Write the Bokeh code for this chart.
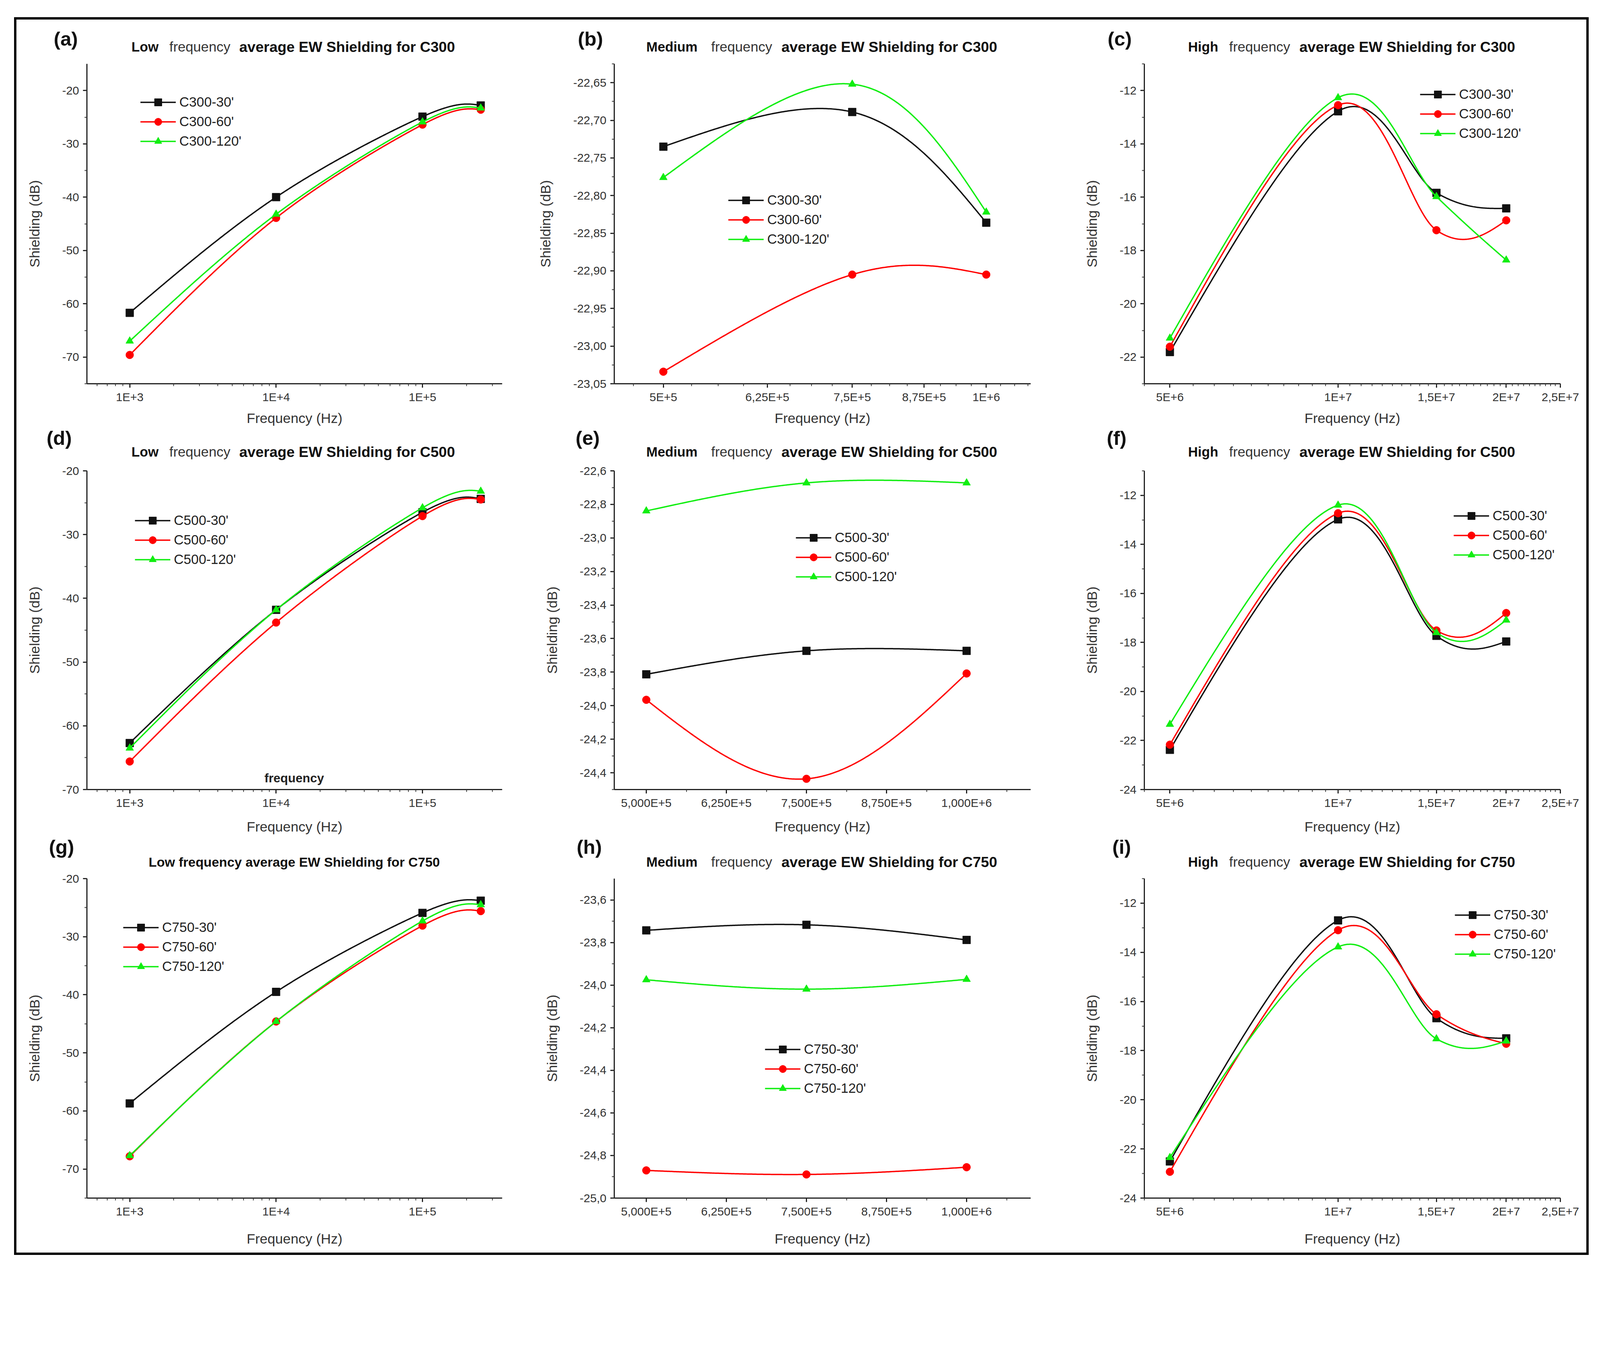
import numpy as np
from bokeh.plotting import figure
from bokeh.layouts import row, column
from bokeh.models import Range1d, FixedTicker, Label, Legend, LegendItem
from bokeh.embed import file_html
from bokeh.resources import INLINE

FONT = "Liberation Sans"

# ---------------- data ----------------
low_freq = [1e3, 1e4, 1e5, 2.5e5]
med_freq = [5e5, 7.5e5, 1e6]
high_freq = [5e6, 1e7, 1.5e7, 2e7]

c300_low_30 = [-61.7, -40.0, -24.9, -22.8]
c300_low_60 = [-69.6, -43.9, -26.4, -23.6]
c300_low_120 = [-67.0, -43.2, -25.9, -23.3]
c300_med_30 = [-22.735, -22.689, -22.836]
c300_med_60 = [-23.034, -22.905, -22.905]
c300_med_120 = [-22.776, -22.652, -22.822]
c300_high_30 = [-21.81, -12.78, -15.84, -16.42]
c300_high_60 = [-21.61, -12.55, -17.24, -16.87]
c300_high_120 = [-21.29, -12.27, -15.98, -18.36]

c500_low_30 = [-62.7, -41.8, -26.5, -24.4]
c500_low_60 = [-65.6, -43.8, -27.1, -24.5]
c500_low_120 = [-63.5, -41.8, -25.8, -23.2]
c500_med_30 = [-23.813, -23.673, -23.673]
c500_med_60 = [-23.965, -24.436, -23.808]
c500_med_120 = [-22.839, -22.672, -22.672]
c500_high_30 = [-22.38, -12.98, -17.73, -17.96]
c500_high_60 = [-22.17, -12.73, -17.51, -16.80]
c500_high_120 = [-21.34, -12.40, -17.60, -17.09]

c750_low_30 = [-58.7, -39.5, -25.9, -23.8]
c750_low_60 = [-67.8, -44.6, -28.1, -25.6]
c750_low_120 = [-67.7, -44.6, -27.3, -24.5]
c750_med_30 = [-23.743, -23.717, -23.788]
c750_med_60 = [-24.870, -24.889, -24.855]
c750_med_120 = [-23.975, -24.019, -23.973]
c750_high_30 = [-22.51, -12.70, -16.68, -17.50]
c750_high_60 = [-22.93, -13.10, -16.52, -17.72]
c750_high_120 = [-22.35, -13.78, -17.52, -17.61]

# tick values and labels
low_x_ticks = [1e3, 1e4, 1e5]
low_x_labels = ["1E+3", "1E+4", "1E+5"]
med_log_x_ticks = [5e5, 6.25e5, 7.5e5, 8.75e5, 1e6]
med_log_x_labels = ["5E+5", "6,25E+5", "7,5E+5", "8,75E+5", "1E+6"]
med_lin_x_ticks = [5e5, 6.25e5, 7.5e5, 8.75e5, 1e6]
med_lin_x_labels = ["5,000E+5", "6,250E+5", "7,500E+5", "8,750E+5", "1,000E+6"]
high_x_ticks = [5e6, 1e7, 1.5e7, 2e7, 2.5e7]
high_x_labels = ["5E+6", "1E+7", "1,5E+7", "2E+7", "2,5E+7"]

low_y_ticks = [-70.0, -60.0, -50.0, -40.0, -30.0, -20.0]
low_y_labels = ["-70", "-60", "-50", "-40", "-30", "-20"]
b_y_ticks = [-23.05, -23.0, -22.95, -22.9, -22.85, -22.8, -22.75, -22.7, -22.65]
b_y_labels = ["-23,05", "-23,00", "-22,95", "-22,90", "-22,85", "-22,80", "-22,75", "-22,70", "-22,65"]
high_y_ticks = [-24.0, -22.0, -20.0, -18.0, -16.0, -14.0, -12.0]
high_y_labels = ["-24", "-22", "-20", "-18", "-16", "-14", "-12"]
e_y_ticks = [-24.4, -24.2, -24.0, -23.8, -23.6, -23.4, -23.2, -23.0, -22.8, -22.6]
e_y_labels = ["-24,4", "-24,2", "-24,0", "-23,8", "-23,6", "-23,4", "-23,2", "-23,0", "-22,8", "-22,6"]
h_y_ticks = [-25.0, -24.8, -24.6, -24.4, -24.2, -24.0, -23.8, -23.6]
h_y_labels = ["-25,0", "-24,8", "-24,6", "-24,4", "-24,2", "-24,0", "-23,8", "-23,6"]

duration_labels = ["30'", "60'", "120'"]

# ---------------- styling / geometry (reference-picture pixels, scaled by S) ----------------
S = 0.9375


def px(v):
    return int(round(v * S))


def fs(v):
    return f"{v * S:.1f}px"


COLORS = ["#111111", "#ff0000", "#11ee11"]
MARKERS = ["square", "circle", "triangle"]
col_left = [192, 214, 181]
col_fw = [1134, 1137, 1136]
col_right = [92, 129, 71]
PLOT_TOP = 20
header_h = [100, 99, 97]
row_fh = [877, 875, 873]
row_bottom = [115, 122, 149]
xlabel_standoff = [16, 24, 33]
cell_w = [px(col_left[i]) + px(col_fw[i]) + px(col_right[i]) for i in range(3)]
cell_x0 = [0, cell_w[0], cell_w[0] + cell_w[1]]
TOTAL_W = sum(cell_w)


def screen_spline(xs, ys, log_x, xr, yr, fw, fh, per_seg=120):
    """Smooth (Catmull-Rom / Hermite) connecting curve through the data points,
    computed in screen proportions like the original plotting program."""
    tf = np.log10 if log_x else (lambda a: np.asarray(a, float))
    x0, x1 = tf(np.array(xr, float))
    u = (tf(np.asarray(xs, float)) - x0) / (x1 - x0) * fw
    v = (np.asarray(ys, float) - yr[0]) / (yr[1] - yr[0]) * fh
    P = np.column_stack([u, v])
    n = len(P)
    m = np.zeros_like(P)
    for i in range(1, n - 1):
        m[i] = (P[i + 1] - P[i - 1]) / 2
    m[0] = (3 * (P[1] - P[0]) - m[1]) / 2
    m[-1] = (3 * (P[-1] - P[-2]) - m[-2]) / 2
    out = []
    for i in range(n - 1):
        t = np.linspace(0, 1, per_seg, endpoint=(i == n - 2))[:, None]
        h00 = 2 * t ** 3 - 3 * t ** 2 + 1
        h10 = t ** 3 - 2 * t ** 2 + t
        h01 = -2 * t ** 3 + 3 * t ** 2
        h11 = t ** 3 - t ** 2
        out.append(h00 * P[i] + h10 * m[i] + h01 * P[i + 1] + h11 * m[i + 1])
    Q = np.vstack(out)
    xx = Q[:, 0] / fw * (x1 - x0) + x0
    if log_x:
        xx = 10 ** xx
    yy = Q[:, 1] / fh * (yr[1] - yr[0]) + yr[0]
    return xx, yy


def make_header(ri, specs):
    H = px(header_h[ri])
    h = figure(width=TOTAL_W, height=H, x_range=Range1d(0, TOTAL_W), y_range=Range1d(0, H),
               x_axis_location=None, y_axis_location=None,
               min_border=0, output_backend="svg", toolbar_location=None)
    h.outline_line_color = None
    h.grid.visible = False
    h.background_fill_color = "white"
    h.border_fill_color = "white"
    for ci, (letter, title_parts) in enumerate(specs):
        fl = cell_x0[ci] + px(col_left[ci])
        h.add_layout(Label(x=fl + px(letter[1]), y=px(letter[2] - PLOT_TOP), text=letter[0],
                           text_font=FONT, text_font_size=fs(54), text_font_style="bold",
                           text_color="#111111", text_align="center", text_baseline="middle"))
        tdy = title_parts[0]
        for txt, dx, style, size, color in title_parts[1:]:
            h.add_layout(Label(x=fl + px(dx), y=px(tdy - PLOT_TOP), text=txt,
                               text_font=FONT, text_font_size=fs(size), text_font_style=style,
                               text_color=color, text_align="left", text_baseline="middle"))
    return h


def make_panel(ri, ci, xs, series, prefix, log_x, xr, yr,
               xticks, xlabels, xminor, yticks, ylabels, yminor, legend_pos, extra=None):
    W = cell_w[ci]
    H = px(PLOT_TOP) + px(row_fh[ri]) + px(row_bottom[ri])
    p = figure(
        x_axis_type="log" if log_x else "linear",
        x_range=Range1d(*xr), y_range=Range1d(*yr),
        width=W, height=H,
        min_border_left=px(col_left[ci]), min_border_right=px(col_right[ci]),
        min_border_top=px(PLOT_TOP), min_border_bottom=px(row_bottom[ri]),
        output_backend="svg", toolbar_location=None,
    )
    p.outline_line_color = None
    p.xgrid.visible = False
    p.ygrid.visible = False
    p.background_fill_color = "white"
    p.border_fill_color = "white"

    p.xaxis.ticker = FixedTicker(ticks=xticks, minor_ticks=list(xminor))
    p.xaxis.major_label_overrides = dict(zip(xticks, xlabels))
    p.yaxis.ticker = FixedTicker(ticks=yticks, minor_ticks=list(yminor))
    p.yaxis.major_label_overrides = dict(zip(yticks, ylabels))
    for ax in (p.xaxis[0], p.yaxis[0]):
        ax.axis_line_width = 3
        ax.axis_line_color = "#222222"
        ax.major_tick_line_width = 3
        ax.major_tick_line_color = "#222222"
        ax.major_tick_out = px(11)
        ax.major_tick_in = 0
        ax.minor_tick_line_width = 2
        ax.minor_tick_line_color = "#333333"
        ax.minor_tick_out = px(6)
        ax.minor_tick_in = 0
        ax.major_label_text_font = FONT
        ax.major_label_text_font_size = fs(32)
        ax.major_label_text_color = "#333333"
        ax.axis_label_text_font = FONT
        ax.axis_label_text_font_size = fs(38)
        ax.axis_label_text_font_style = "normal"
        ax.axis_label_text_color = "#333333"
    p.xaxis.axis_label = "Frequency (Hz)"
    p.xaxis.major_label_standoff = px(7)
    p.xaxis.axis_label_standoff = px(xlabel_standoff[ri])
    p.yaxis.axis_label = "Shielding (dB)"
    p.yaxis.major_label_standoff = px(11)
    p.yaxis.axis_label_standoff = px(50)

    items = []
    for k, ys in enumerate(series):
        sx, sy = screen_spline(xs, ys, log_x, xr, yr, col_fw[ci], row_fh[ri])
        ln = p.line(sx, sy, line_color=COLORS[k], line_width=3.5)
        sc = p.scatter(xs, ys, marker=MARKERS[k], size=px(21),
                       fill_color=COLORS[k], line_color=COLORS[k])
        items.append(LegendItem(label=prefix + "-" + duration_labels[k], renderers=[ln, sc]))

    lx, lrow1 = legend_pos
    gh, sp = 50, 3
    lh = 3 * gh + 2 * sp
    vy = row_fh[ri] - (lrow1 - gh / 2) - lh
    leg = Legend(items=items, location=(px(lx), px(vy)), orientation="vertical",
                 glyph_width=px(97), glyph_height=px(gh), label_height=px(gh), spacing=px(sp),
                 label_standoff=px(10), padding=0, margin=0,
                 label_text_font=FONT, label_text_font_size=fs(37),
                 label_text_color="#222222",
                 background_fill_alpha=0, border_line_color=None)
    p.add_layout(leg)

    if extra is not None:
        ex, ey, et = extra
        p.add_layout(Label(x=ex, y=ey, text=et, text_font=FONT, text_font_size=fs(34),
                           text_font_style="bold", text_color="#222222",
                           text_align="center", text_baseline="middle"))
    return p


low_minor = [m * 10 ** e for e in (2, 3, 4, 5) for m in range(2, 10) if 5.1e2 <= m * 10 ** e <= 3.5e5]
high_minor = list(np.arange(4.5e6, 2.5e7 + 1, 5e5))
med_log_minor = list(np.arange(4.6875e5, 1.1e6, 3.125e4))
med_lin_minor = list(np.arange(4.375e5 + 1.25e5, 1.1e6, 1.25e5))

LOW_XR = (5.1e2, 3.5e5)
MED_XR = (4.5e5, 1.1e6)
HIGH_XR = (4.5e6, 2.5e7)


def title_low(dy, mat):
    return [dy, ("Low", 122, "bold", 37, "#111111"),
            ("frequency", 225, "normal", 38, "#333333"),
            ("average EW Shielding for " + mat, 416, "bold", 40, "#111111")]


def title_med(dy, mat):
    return [dy, ("Medium", 88, "bold", 37, "#111111"),
            ("frequency", 265, "normal", 38, "#333333"),
            ("average EW Shielding for " + mat, 457, "bold", 40, "#111111")]


def title_high(dy, mat):
    return [dy, ("High", 119, "bold", 37, "#111111"),
            ("frequency", 231, "normal", 38, "#333333"),
            ("average EW Shielding for " + mat, 423, "bold", 40, "#111111")]


pa = make_panel(0, 0, low_freq, [c300_low_30, c300_low_60, c300_low_120], "C300", True,
                LOW_XR, (-75, -15), low_x_ticks, low_x_labels, low_minor,
                low_y_ticks, low_y_labels, np.arange(-75, -15, 5), (146, 109))
pb = make_panel(0, 1, med_freq, [c300_med_30, c300_med_60, c300_med_120], "C300", True,
                MED_XR, (-23.05, -22.625), med_log_x_ticks, med_log_x_labels, med_log_minor,
                b_y_ticks, b_y_labels, np.arange(-23.05, -22.62, 0.025), (312, 377))
pc = make_panel(0, 2, high_freq, [c300_high_30, c300_high_60, c300_high_120], "C300", True,
                HIGH_XR, (-23, -11), high_x_ticks, high_x_labels, high_minor,
                high_y_ticks[1:], high_y_labels[1:], np.arange(-23, -10.9, 1), (753, 88))

pd = make_panel(1, 0, low_freq, [c500_low_30, c500_low_60, c500_low_120], "C500", True,
                LOW_XR, (-70, -20), low_x_ticks, low_x_labels, low_minor,
                low_y_ticks, low_y_labels, np.arange(-70, -19, 5), (131, 141),
                extra=(1.33e4, -68.2, "frequency"))
pe = make_panel(1, 1, med_freq, [c500_med_30, c500_med_60, c500_med_120], "C500", False,
                MED_XR, (-24.5, -22.6), med_lin_x_ticks, med_lin_x_labels, med_lin_minor,
                e_y_ticks, e_y_labels, np.arange(-24.5, -22.55, 0.1), (496, 188))
pf = make_panel(1, 2, high_freq, [c500_high_30, c500_high_60, c500_high_120], "C500", True,
                HIGH_XR, (-24, -11), high_x_ticks, high_x_labels, high_minor,
                high_y_ticks, high_y_labels, np.arange(-24, -10.9, 1), (845, 129))

pg = make_panel(2, 0, low_freq, [c750_low_30, c750_low_60, c750_low_120], "C750", True,
                LOW_XR, (-75, -20), low_x_ticks, low_x_labels, low_minor,
                low_y_ticks, low_y_labels, np.arange(-75, -19, 5), (99, 135))
ph = make_panel(2, 1, med_freq, [c750_med_30, c750_med_60, c750_med_120], "C750", False,
                MED_XR, (-25.0, -23.5), med_lin_x_ticks, med_lin_x_labels, med_lin_minor,
                h_y_ticks, h_y_labels, np.arange(-25.0, -23.45, 0.1), (412, 468))
pi = make_panel(2, 2, high_freq, [c750_high_30, c750_high_60, c750_high_120], "C750", True,
                HIGH_XR, (-24, -11), high_x_ticks, high_x_labels, high_minor,
                high_y_ticks, high_y_labels, np.arange(-24, -10.9, 1), (848, 101))

g_title = [46, ("Low frequency average EW Shielding for C750", 169, "bold", 36, "#111111")]
hdr1 = make_header(0, [(("(a)", -58, 68), title_low(47, "C300")),
                       (("(b)", -65, 68), title_med(47, "C300")),
                       (("(c)", -67, 68), title_high(47, "C300"))])
hdr2 = make_header(1, [(("(d)", -76, 89), title_low(52, "C500")),
                       (("(e)", -73, 89), title_med(52, "C500")),
                       (("(f)", -76, 89), title_high(52, "C500"))])
hdr3 = make_header(2, [(("(g)", -69, 86), g_title),
                       (("(h)", -68, 86), title_med(46, "C750")),
                       (("(i)", -62, 86), title_high(46, "C750"))])

layout = column(hdr1, row(pa, pb, pc, spacing=0),
                hdr2, row(pd, pe, pf, spacing=0),
                hdr3, row(pg, ph, pi, spacing=0), spacing=0,
                margin=(44, 0, 0, 36), styles={"border": "6px solid black"})

open("out.html", "w").write(file_html(layout, INLINE))
